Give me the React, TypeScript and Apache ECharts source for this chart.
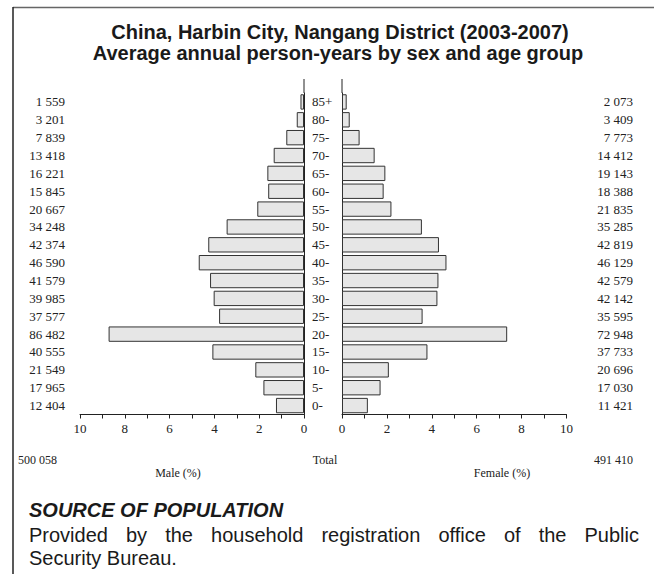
import { useEffect, useRef } from 'react';
import * as echarts from 'echarts';

const ageGroups = ['0-', '5-', '10-', '15-', '20-', '25-', '30-', '35-', '40-', '45-', '50-', '55-', '60-', '65-', '70-', '75-', '80-', '85+'];
const maleCounts = [12404, 17965, 21549, 40555, 86482, 37577, 39985, 41579, 46590, 42374, 34248, 20667, 15845, 16221, 13418, 7839, 3201, 1559];
const femaleCounts = [11421, 17030, 20696, 37733, 72948, 35595, 42142, 42579, 46129, 42819, 35285, 21835, 18388, 19143, 14412, 7773, 3409, 2073];
// percent of the whole population, read against the axes
const malePercent = [1.251, 1.812, 2.173, 4.09, 8.723, 3.79, 4.033, 4.194, 4.699, 4.274, 3.454, 2.085, 1.598, 1.636, 1.353, 0.791, 0.323, 0.157];
const femalePercent = [1.152, 1.718, 2.087, 3.806, 7.358, 3.59, 4.25, 4.295, 4.653, 4.319, 3.559, 2.202, 1.855, 1.931, 1.454, 0.784, 0.344, 0.209];
const maleTotal = '500 058';
const femaleTotal = '491 410';
const titleLines = ['China, Harbin City, Nangang District (2003-2007)', 'Average annual person-years by sex and age group'];
const sourceHeading = 'SOURCE OF POPULATION';
const sourceLines = ['Provided by the household registration office of the Public', 'Security Bureau.'];

const SANS = '"Liberation Sans", Arial, Helvetica, sans-serif';
const SERIF = '"Liberation Serif", "Times New Roman", serif';

const fmt = (n: number) => String(n).replace(/\B(?=(\d{3})+(?!\d))/g, ' ');

function justifiedWords(line: string, x0: number, x1: number, y: number, fontSize: number) {
  const words = line.split(' ');
  const canvas = document.createElement('canvas');
  const ctx = canvas.getContext('2d')!;
  ctx.font = `${fontSize}px "Liberation Sans"`;
  const widths = words.map((w) => ctx.measureText(w).width);
  const total = widths.reduce((a, b) => a + b, 0);
  const gap = (x1 - x0 - total) / (words.length - 1);
  let x = x0;
  return words.map((w, i) => {
    const el = {
      type: 'text',
      x,
      y,
      style: { text: w, font: `${fontSize}px ${SANS}`, fill: '#1a1a1a', textVerticalAlign: 'middle' },
    };
    x += widths[i] + gap;
    return el;
  });
}

export default function App() {
  const ref = useRef<HTMLDivElement>(null);
  useEffect(() => {
    const chart = echarts.init(ref.current!, null, { renderer: 'svg' });
    const axisColor = '#222';
    const xAxisBase = {
      type: 'value',
      min: 0,
      max: 10,
      interval: 2,
      axisLine: { show: true, lineStyle: { color: axisColor, width: 1 } },
      axisTick: { show: true, length: 4, lineStyle: { color: axisColor } },
      minorTick: { show: true, splitNumber: 2, length: 4, lineStyle: { color: axisColor } },
      splitLine: { show: false },
      minorSplitLine: { show: false },
      axisLabel: { fontFamily: SERIF, fontSize: 13, color: '#222', margin: 7 },
    };
    const barStyle = { color: '#e6e6e6', borderColor: '#333', borderWidth: 1 };
    const graphics: any[] = [
      { type: 'line', shape: { x1: 13, y1: 7.5, x2: 654, y2: 7.5 }, style: { stroke: '#666', lineWidth: 1.5 } },
      { type: 'line', shape: { x1: 13, y1: 7, x2: 13, y2: 574 }, style: { stroke: '#222', lineWidth: 1.5 } },
      { type: 'line', shape: { x1: 304, y1: 79, x2: 304, y2: 93 }, style: { stroke: axisColor, lineWidth: 1 } },
      { type: 'line', shape: { x1: 342, y1: 79, x2: 342, y2: 93 }, style: { stroke: axisColor, lineWidth: 1 } },
      { type: 'text', x: 340, y: 32, style: { text: titleLines[0], font: `bold 20px ${SANS}`, fill: '#1a1a1a', textAlign: 'center', textVerticalAlign: 'middle' } },
      { type: 'text', x: 338, y: 53, style: { text: titleLines[1], font: `bold 20px ${SANS}`, fill: '#1a1a1a', textAlign: 'center', textVerticalAlign: 'middle' } },
      { type: 'text', x: 18, y: 460, style: { text: maleTotal, font: `12px ${SERIF}`, fill: '#222', textVerticalAlign: 'middle' } },
      { type: 'text', x: 325, y: 460, style: { text: 'Total', font: `12px ${SERIF}`, fill: '#222', textAlign: 'center', textVerticalAlign: 'middle' } },
      { type: 'text', x: 633, y: 460, style: { text: femaleTotal, font: `12px ${SERIF}`, fill: '#222', textAlign: 'right', textVerticalAlign: 'middle' } },
      { type: 'text', x: 178, y: 473, style: { text: 'Male (%)', font: `12px ${SERIF}`, fill: '#222', textAlign: 'center', textVerticalAlign: 'middle' } },
      { type: 'text', x: 502, y: 473, style: { text: 'Female (%)', font: `12px ${SERIF}`, fill: '#222', textAlign: 'center', textVerticalAlign: 'middle' } },
      { type: 'text', x: 29, y: 510, style: { text: sourceHeading, font: `italic bold 20px ${SANS}`, fill: '#1a1a1a', textVerticalAlign: 'middle' } },
      ...justifiedWords(sourceLines[0], 29, 639, 535, 20),
      { type: 'text', x: 29, y: 558, style: { text: sourceLines[1], font: `20px ${SANS}`, fill: '#1a1a1a', textVerticalAlign: 'middle' } },
    ];
    chart.setOption({
      animation: false,
      backgroundColor: '#ffffff',
      grid: [
        { left: 80, width: 224, top: 93, height: 321.5 },
        { left: 342, width: 224.5, top: 93, height: 321.5 },
      ],
      xAxis: [
        { ...xAxisBase, gridIndex: 0, inverse: true },
        { ...xAxisBase, gridIndex: 1 },
      ],
      yAxis: [
        {
          gridIndex: 0, type: 'category', data: ageGroups, position: 'right',
          axisLine: { show: true, lineStyle: { color: axisColor } }, axisTick: { show: false }, axisLabel: { show: false },
        },
        {
          gridIndex: 0, type: 'category', data: maleCounts.map(fmt), position: 'left',
          axisLine: { show: false }, axisTick: { show: false },
          axisLabel: { align: 'right', margin: 15, fontFamily: SERIF, fontSize: 13, color: '#222' },
        },
        {
          gridIndex: 1, type: 'category', data: ageGroups, position: 'left',
          axisLine: { show: true, lineStyle: { color: axisColor } }, axisTick: { show: false },
          axisLabel: { align: 'left', margin: 30, fontFamily: SERIF, fontSize: 13, color: '#222' },
        },
        {
          gridIndex: 1, type: 'category', data: femaleCounts.map(fmt), position: 'right',
          axisLine: { show: false }, axisTick: { show: false },
          axisLabel: { align: 'right', margin: 66.5, fontFamily: SERIF, fontSize: 13, color: '#222' },
        },
      ],
      series: [
        { type: 'bar', name: 'Male', xAxisIndex: 0, yAxisIndex: 0, data: malePercent, barCategoryGap: '14%', itemStyle: barStyle },
        { type: 'bar', name: 'Female', xAxisIndex: 1, yAxisIndex: 2, data: femalePercent, barCategoryGap: '14%', itemStyle: barStyle },
      ],
      graphic: graphics,
    });
    return () => chart.dispose();
  }, []);
  return <div ref={ref} style={{ position: 'fixed', left: 0, top: 0, width: 654, height: 574 }} />;
}
